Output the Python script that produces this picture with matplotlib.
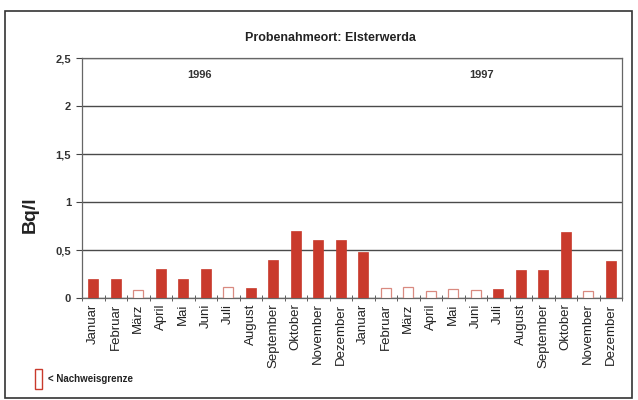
import matplotlib
matplotlib.use("Agg")
import matplotlib.pyplot as plt
from matplotlib.patches import Rectangle
import numpy as np

months = ["Januar", "Februar", "März", "April", "Mai", "Juni", "Juli", "August",
          "September", "Oktober", "November", "Dezember"]
labels = months + months
values_1996 = [0.20, 0.20, 0.08, 0.30, 0.20, 0.30, 0.11, 0.10, 0.40, 0.70, 0.60, 0.60]
values_1997 = [0.48, 0.10, 0.11, 0.07, 0.09, 0.08, 0.09, 0.29, 0.29, 0.69, 0.07, 0.39]
below_limit_1996 = [False, False, True, False, False, False, True, False, False, False, False, False]
below_limit_1997 = [False, True, True, True, True, True, False, False, False, False, True, False]
yticks = [0, 0.5, 1, 1.5, 2, 2.5]
ytick_labels = ["0", "0,5", "1", "1,5", "2", "2,5"]

values = values_1996 + values_1997
below = below_limit_1996 + below_limit_1997

plt.rcParams['font.family'] = ['Liberation Sans', 'DejaVu Sans']
RED = "#c93a2c"
EDGE_OPEN = "#d98a80"

fig = plt.figure(figsize=(6.38, 4.0), dpi=100)
fig.patches.append(Rectangle((5/638, 0.005), 627/638, 0.9675, transform=fig.transFigure,
                             fill=False, edgecolor="#333333", linewidth=1.2))
ax = fig.add_axes([82/638, 1 - 298/400, 540/638, 240/400])

x = np.arange(len(values))
for xi, v, b in zip(x, values, below):
    if b:
        ax.bar(xi, v, width=0.45, facecolor="white", edgecolor=EDGE_OPEN, linewidth=0.9, zorder=3)
    else:
        ax.bar(xi, v, width=0.45, facecolor=RED, edgecolor=RED, linewidth=0.5, zorder=3)

ax.set_xlim(-0.5, len(values) - 0.5)
ax.set_ylim(0, 2.5)
ax.set_yticks(yticks)
ax.set_yticklabels(ytick_labels, fontsize=8, fontweight="bold", color="#333333")
ax.yaxis.grid(True, color="#4a4a4a", linewidth=1.0)
ax.set_axisbelow(True)

ax.set_xticks(x)
ax.set_xticklabels(labels, rotation=90, fontsize=9.5, color="#222222")
ax.tick_params(axis="x", length=0, pad=4)
ax.set_xticks(np.arange(-0.5, len(values), 1.0), minor=True)
ax.tick_params(axis="x", which="minor", length=4, direction="inout", color="#444444")
ax.tick_params(axis="y", length=4, color="#444444", pad=4)

for s in ax.spines.values():
    s.set_color("#666666")
    s.set_linewidth(0.9)

ax.text(0.218, 0.93, "1996", transform=ax.transAxes, ha="center", va="center",
        fontsize=8, fontweight="bold", color="#333333")
ax.text(0.74, 0.93, "1997", transform=ax.transAxes, ha="center", va="center",
        fontsize=8, fontweight="bold", color="#333333")

fig.text(330/638, 1 - 38/400, "Probenahmeort: Elsterwerda", ha="center", va="center",
         fontsize=9, fontweight="bold", color="#222222")
fig.text(30/638, 1 - 215/400, "Bq/l", rotation=90, ha="center", va="center",
         fontsize=14, fontweight="bold", color="#222222")

fig.patches.append(Rectangle((35/638, 1 - 389/400), 7/638, 20/400, transform=fig.transFigure,
                             fill=False, edgecolor=RED, linewidth=1.0))
fig.text(48/638, 1 - 379/400, "< Nachweisgrenze", ha="left", va="center",
         fontsize=7, fontweight="bold", color="#222222")

fig.savefig("out.png", dpi=100)
